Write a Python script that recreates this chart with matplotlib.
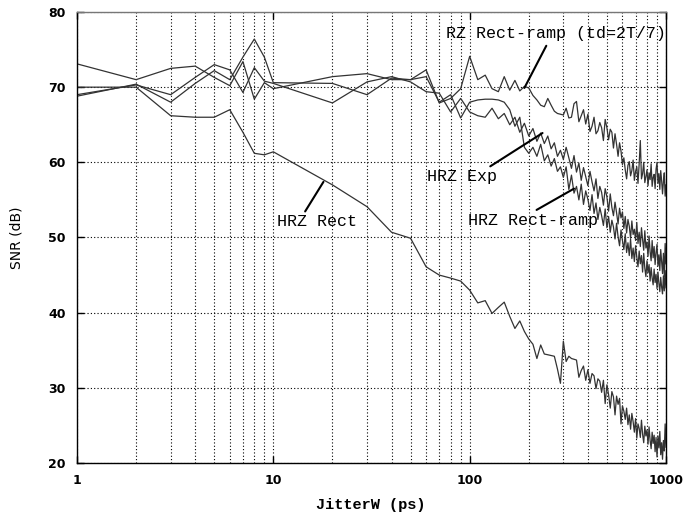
import matplotlib
matplotlib.use("Agg")
import matplotlib.pyplot as plt
from matplotlib.ticker import FixedLocator, NullFormatter, LogLocator

# jitter grid: 1..9 ps, then 10..1000 ps in 10 ps steps
jitter = list(range(1, 10)) + list(range(10, 1001, 10))

# RZ Rect-ramp (td=2T/7)
snr_rz = [
    68.8, 70.4, 68.0, 70.5, 72.2, 71.0, 74.0, 76.4, 74.0,
    70.6, 70.5, 69.0, 71.2, 71.0, 72.3, 67.9, 68.5, 69.8,
    74.1, 71.0, 71.6, 69.8, 69.4, 71.4, 69.6, 70.9, 69.5, 70.1,
    69.9, 68.9, 68.3, 67.6, 67.4, 68.5, 67.6, 66.8, 66.5, 66.4,
    66.3, 67.2, 65.9, 66.0, 67.8, 68.1, 65.4, 66.2, 67.0, 65.1,
    66.4, 64.1, 64.8, 66.0, 63.8, 64.2, 65.3, 64.6, 62.9, 65.7,
    64.6, 63.0, 64.4, 64.0, 61.9, 63.8, 62.4, 60.8, 62.6, 61.5,
    59.7, 60.6, 59.0, 57.8, 59.6, 60.1, 58.2, 58.9, 60.3, 57.6,
    58.8, 59.4, 57.2, 59.8, 62.9, 57.8, 58.5, 60.0, 57.3, 58.1,
    59.0, 56.9, 58.6, 57.7, 59.8, 56.8, 58.0, 58.4, 56.5, 59.1,
    60.0, 57.2, 58.5, 56.4, 58.9, 57.6, 55.8, 57.4, 58.6, 55.5,
    57.0,
]

# HRZ Exp
snr_exp = [
    69.0, 70.3, 69.0, 71.3, 73.0, 72.3, 69.3, 72.6, 70.8,
    70.5, 67.9, 70.7, 71.4, 70.7, 69.4, 69.2, 66.7, 68.5,
    66.7, 66.2, 66.0, 67.2, 65.8, 66.5, 65.0, 66.0, 64.0, 65.2,
    63.5, 64.5, 62.8, 63.9, 62.5, 63.5, 61.8, 62.6, 60.8, 61.6,
    60.4, 62.0, 60.6, 59.2, 60.9, 58.7, 59.9, 57.6, 59.3, 58.1,
    56.9, 58.8, 57.4, 56.2, 57.8, 55.2, 56.8, 56.0, 54.3, 56.5,
    55.4, 53.5, 55.8, 54.0, 52.9, 54.7, 53.3, 51.8, 53.9, 52.6,
    53.4, 51.2, 52.8, 50.6, 52.4, 51.5, 49.9, 52.2, 50.4, 51.1,
    49.6, 52.0, 49.2, 50.7, 48.8, 51.3, 49.7, 48.3, 50.9, 48.6,
    49.4, 47.5, 50.2, 48.1, 46.9, 49.6, 47.3, 48.8, 46.4, 48.0,
    49.1, 46.2, 47.7, 45.6, 48.4, 46.8, 45.2, 47.9, 44.8, 49.2,
    46.5,
]

# HRZ Rect-ramp
snr_ramp = [
    73.1, 71.0, 72.5, 72.8, 71.3, 70.2, 73.4, 68.4, 70.6,
    69.8, 71.4, 71.8, 71.0, 71.0, 71.4, 68.0, 69.0, 65.9,
    68.0, 68.3, 68.4, 68.4, 68.3, 68.0, 67.0, 64.8, 66.0, 62.0,
    61.2, 62.0, 60.8, 62.4, 60.2, 61.0, 59.5, 60.5, 58.8, 59.4,
    58.0, 59.4, 56.4, 58.3, 55.9, 56.8, 55.0, 57.1, 54.4, 56.2,
    55.1, 53.6, 55.7, 53.2, 54.6, 52.4, 54.0, 52.9, 51.6, 53.8,
    51.3, 52.8, 50.7, 52.3, 51.4, 49.8, 51.9, 50.1, 48.9, 51.0,
    49.6, 48.4, 50.5, 48.0, 49.3, 47.6, 49.8, 47.2, 48.6, 46.8,
    48.9, 47.4, 46.1, 48.2, 46.5, 47.6, 45.4, 47.9, 45.9, 44.8,
    46.9, 45.3, 46.4, 44.2, 46.0, 44.6, 43.7, 45.8, 44.0, 45.1,
    43.2, 45.4, 43.9, 42.8, 44.7, 43.4, 42.5, 44.9, 42.9, 45.6,
    43.3,
]

# HRZ Rect
snr_rect = [
    70.0, 70.0, 66.2, 66.0, 66.0, 67.0, 64.0, 61.2, 61.0,
    61.4, 57.0, 54.1, 50.7, 49.9, 46.1, 45.0, 44.6, 44.2,
    43.0, 41.3, 41.6, 39.9, 40.7, 41.4, 39.5, 37.9, 38.9, 37.5,
    36.5, 35.8, 33.9, 35.7, 34.5, 34.4, 34.3, 34.2, 32.5, 30.6,
    36.2, 33.5, 34.2, 33.9, 33.8, 33.7, 31.4, 32.3, 32.9, 31.0,
    32.4, 30.6, 31.9, 31.6, 29.9, 31.2, 30.9, 29.4, 31.0, 27.9,
    30.4, 29.1, 27.3, 29.5, 28.8, 26.4, 28.9, 27.8, 28.6, 25.2,
    27.6, 26.9, 25.8, 27.3, 25.1, 26.4, 24.5, 26.6, 25.5, 24.1,
    25.9, 23.3, 25.2, 24.6, 23.4, 25.7, 23.8, 22.7, 24.9, 23.6,
    24.4, 22.5, 24.8, 23.0, 21.9, 24.1, 22.6, 23.7, 21.5, 23.4,
    20.8, 23.6, 22.0, 24.2, 21.1, 22.7, 20.5, 23.0, 21.6, 25.2,
    22.1,
]

fig = plt.figure(figsize=(6.91, 5.15), dpi=100)
ax = fig.add_axes([77/691, 1 - 463/515, 589/691, 451/515])

line_col = '#333333'
for s in [snr_rz, snr_exp, snr_ramp, snr_rect]:
    ax.plot(jitter, s, color=line_col, lw=0.9)

ax.set_xscale('log')
ax.set_xlim(1, 1000)
ax.set_ylim(20, 80)
ax.set_yticks([20, 30, 40, 50, 60, 70, 80])
ax.xaxis.set_major_locator(FixedLocator([1, 10, 100, 1000]))
ax.set_xticklabels(['1', '10', '100', '1000'])
ax.xaxis.set_minor_locator(LogLocator(base=10, subs=range(2, 10)))
ax.xaxis.set_minor_formatter(NullFormatter())

ax.grid(True, which='both', axis='x', color='black', lw=0.8, ls=(0, (1, 2)))
ax.grid(True, which='major', axis='y', color='black', lw=0.8, ls=(0, (1, 2)))

ax.tick_params(which='major', direction='in', length=5, top=True, right=True,
               width=1, labelsize=9, pad=8)
ax.tick_params(which='minor', length=0)
for lab in ax.get_xticklabels() + ax.get_yticklabels():
    lab.set_fontweight('bold')

for sp in ax.spines.values():
    sp.set_color('black')
    sp.set_linewidth(1.0)
ax.spines['top'].set_color('#777777')

fig.text(371/691, 1 - 505/515, 'JitterW (ps)', family='Liberation Mono',
         fontweight='bold', fontsize=11, ha='center', va='center')
fig.text(17/691, 1 - 238/515, 'SNR (dB)', fontsize=10, rotation=90,
         ha='center', va='center')

# annotations with leader lines
mono = dict(family='Liberation Mono', fontsize=12, color='black')
ax.annotate('RZ Rect-ramp (td=2T/7)', xy=(190, 69.9), xytext=(274, 77.2),
            ha='center', va='center', **mono,
            arrowprops=dict(arrowstyle='-', color='black', lw=1.5,
                            shrinkA=2, shrinkB=0, relpos=(0.47, 0)))
ax.annotate('HRZ Exp', xy=(235, 63.9), xytext=(91, 58.1),
            ha='center', va='center', **mono,
            arrowprops=dict(arrowstyle='-', color='black', lw=1.5,
                            shrinkA=0, shrinkB=0, relpos=(0.83, 0.95)))
ax.annotate('HRZ Rect-ramp', xy=(340, 56.5), xytext=(210, 52.3),
            ha='center', va='center', **mono,
            arrowprops=dict(arrowstyle='-', color='black', lw=1.5,
                            shrinkA=0, shrinkB=0, relpos=(0.46, 0.85)))
ax.annotate('HRZ Rect', xy=(18, 57.4), xytext=(16.6, 52.1),
            ha='center', va='center', **mono,
            arrowprops=dict(arrowstyle='-', color='black', lw=1.5,
                            shrinkA=0, shrinkB=0, relpos=(0.33, 0.95)))

fig.savefig('out.png', dpi=100)
